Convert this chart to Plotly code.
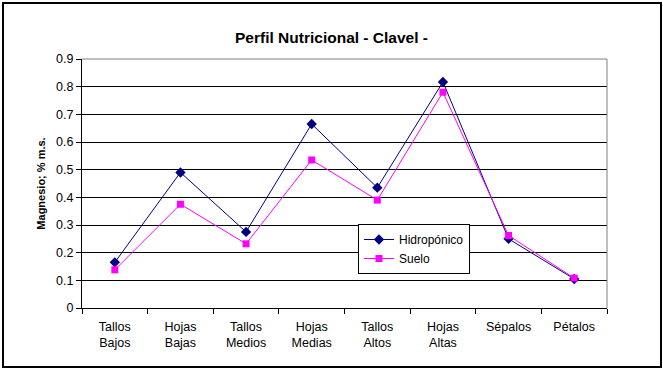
import plotly.graph_objects as go

categories = ["Tallos<br>Bajos", "Hojas<br>Bajas", "Tallos<br>Medios", "Hojas<br>Medias",
              "Tallos<br>Altos", "Hojas<br>Altas", "Sépalos", "Pétalos"]
hidroponico = [0.165, 0.49, 0.275, 0.665, 0.435, 0.817, 0.25, 0.105]
suelo = [0.138, 0.375, 0.232, 0.535, 0.39, 0.78, 0.262, 0.108]

W, H = 663, 371
L, R, T, B = 82, 607, 59, 308
pw, ph = R - L, B - T

def px(x):
    return (x - L) / pw

def py(y):
    return (B - y) / ph

FONT = "Liberation Sans, Arial, sans-serif"

fig = go.Figure()
fig.add_trace(go.Scatter(
    x=categories, y=hidroponico, name="Hidropónico", mode="lines+markers",
    line=dict(color="#000080", width=1),
    marker=dict(symbol="diamond", size=8, color="#000080"),
))
fig.add_trace(go.Scatter(
    x=categories, y=suelo, name="Suelo", mode="lines+markers",
    line=dict(color="#FF00FF", width=1),
    marker=dict(symbol="square", size=7, color="#FF00FF"),
))

fig.update_layout(
    width=W, height=H,
    margin=dict(l=L, r=W - R, t=T, b=H - B, pad=0),
    paper_bgcolor="white", plot_bgcolor="white",
    font=dict(family=FONT, size=12, color="black"),
    title=dict(text="<b>Perfil Nutricional - Clavel -</b>", x=0.5, xanchor="center",
               y=1 - 38 / H, yanchor="middle", font=dict(size=15.5)),
    showlegend=True,
    legend=dict(x=px(358), y=py(224), xanchor="left", yanchor="top",
                bordercolor="black", borderwidth=1, bgcolor="white",
                font=dict(size=12), tracegroupgap=0, itemwidth=30),
    xaxis=dict(
        type="category", range=[-0.5, 7.5], tickson="boundaries",
        ticks="outside", ticklen=5, tickcolor="black",
        showline=True, linecolor="black", linewidth=1,
        showgrid=False, tickfont=dict(size=12.5), ticklabelstandoff=7,
    ),
    yaxis=dict(
        range=[0, 0.9], dtick=0.1, tick0=0, ticks="outside", ticklen=5, tickcolor="black",
        showline=True, linecolor="black", linewidth=1,
        showgrid=True, gridcolor="black", gridwidth=1, zeroline=False,
        tickfont=dict(size=12.5),
        title=dict(text="<b>Magnesio; % m.s.</b>", font=dict(size=11), standoff=8),
    ),
    shapes=[
        dict(type="line", xref="paper", yref="paper", x0=0, x1=1, y0=1, y1=1,
             line=dict(color="#808080", width=1), layer="above"),
        dict(type="line", xref="paper", yref="paper", x0=1, x1=1, y0=0, y1=1,
             line=dict(color="#808080", width=1), layer="above"),
        dict(type="rect", xref="paper", yref="paper",
             x0=px(3), x1=px(661), y0=py(367), y1=py(3),
             line=dict(color="black", width=2), layer="below"),
    ],
)

fig.write_html("out.html", config={"displayModeBar": False},
               post_script="document.body.style.margin='0';document.body.style.overflow='hidden';")
